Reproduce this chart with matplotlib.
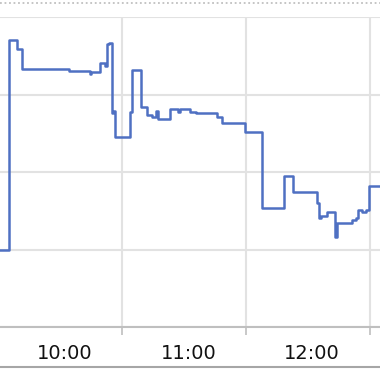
import matplotlib
matplotlib.use("Agg")
import matplotlib.pyplot as plt
from matplotlib.lines import Line2D

# minutes after 10:00 and the level from that moment on
minutes = [0.5, 4.9, 8.75, 11.2, 34.0, 44.2, 44.7, 49.1, 51.5, 52.5, 53.5,
           54.7, 55.4, 56.6, 63.7, 64.6, 69.0, 71.9, 74.3, 76.3, 77.3,
           83.1, 87.0, 88.0, 92.8, 95.7, 105.9, 108.4, 119.5, 128.0, 138.7,
           142.9, 154.5, 155.5, 156.5, 159.4, 163.3, 164.0, 171.5, 173.5,
           174.5, 176.4, 178.3, 179.8, 185.5]
values = [1.00, 3.70, 3.59, 3.33, 3.30, 3.26, 3.29, 3.41, 3.37, 3.65, 3.66,
          2.76, 2.79, 2.45, 2.77, 3.32, 2.84, 2.74, 2.71, 2.79, 2.68,
          2.81, 2.77, 2.81, 2.77, 2.76, 2.71, 2.63, 2.52, 1.54, 1.95,
          1.74, 1.60, 1.41, 1.43, 1.48, 1.16, 1.34, 1.38, 1.41,
          1.51, 1.48, 1.51, 1.82, 1.82]
hour_labels = ["10:00", "11:00", "12:00"]
y_grid = [0, 1, 2, 3, 4]

line_color = "#4f70c2"
grid_color = "#e2e2e2"
axis_color = "#bfbfbf"

fig = plt.figure(figsize=(3.8, 3.72), dpi=100)
ax = fig.add_axes([0, 1 - 327 / 372, 1, (327 - 17) / 372])

ax.plot(minutes, values, drawstyle="steps-post", color=line_color, lw=1.8,
        clip_on=False)

ax.set_xlim(0.49, 185.1)
ax.set_ylim(0, 4)

# hour boundaries carry the tick marks, labels sit a bit right of centre
bounds = [60 * (i + 1) for i in range(len(hour_labels))]
centres = [60 * i + 32 for i in range(len(hour_labels))]
ax.set_xticks(bounds)
ax.set_xticklabels([])
ax.set_xticks(centres, minor=True)
ax.set_xticklabels(hour_labels, minor=True, fontsize=14, color="#111111")
ax.tick_params(axis="x", which="major", length=6, width=1.2, color=axis_color)
ax.tick_params(axis="x", which="minor", length=0, pad=12)
ax.set_yticks(y_grid)
ax.tick_params(axis="y", length=0, labelleft=False)

ax.grid(True, which="major", color=grid_color, lw=1.5)
ax.set_axisbelow(True)
for side in ["top", "left", "right"]:
    ax.spines[side].set_visible(False)
ax.spines["bottom"].set_color(axis_color)
ax.spines["bottom"].set_linewidth(1.5)

# dotted frame line at the top and plain line at the bottom
fig.add_artist(Line2D([0, 1], [1 - 3 / 372, 1 - 3 / 372], color="#c0c0c0",
                      lw=1.3, ls=(0, (1, 1.5))))
fig.add_artist(Line2D([0, 1], [1 - 367 / 372, 1 - 367 / 372],
                      color="#a6a6a6", lw=1.5))

fig.savefig("out.png", dpi=100)
